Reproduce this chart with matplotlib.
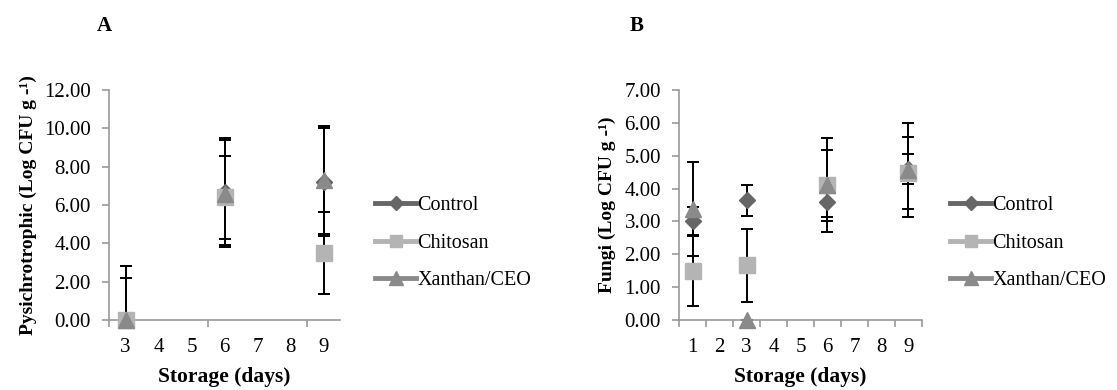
import matplotlib
matplotlib.use("Agg")
import matplotlib.pyplot as plt
from matplotlib.lines import Line2D

plt.rcParams['font.family'] = ['Liberation Serif', 'DejaVu Serif']

series = ["Control", "Chitosan", "Xanthan/CEO"]
colors = ["#666666", "#b4b4b4", "#8a8a8a"]
markers = ["D", "s", "^"]
msizes = [8.5, 11, 12]

# panel A - psychrotrophic
days_a = [3, 6, 9]
control_a = [0.0, 6.7, 7.2]
chitosan_a = [0.0, 6.4, 3.5]
xanthan_a = [0.0, 6.6, 7.3]
control_a_err = [2.8, 2.8, 2.8]
chitosan_a_err = [2.2, 2.15, 2.13]
xanthan_a_err = [2.8, 2.8, 2.8]

# panel B - fungi
days_b = [1, 3, 6, 9]
control_b = [3.0, 3.65, 3.6, 4.6]
chitosan_b = [1.5, 1.66, 4.12, 4.48]
xanthan_b = [3.38, 0.0, 4.1, 4.58]
control_b_err = [0.45, 0.47, 0.46, 0.45]
chitosan_b_err = [1.08, 1.1, 1.43, 1.1]
xanthan_b_err = [1.43, 0.0, 1.08, 1.43]

fig = plt.figure(figsize=(11.17, 3.9), dpi=100)
ax_a = fig.add_axes([0.0976, 0.1795, 0.2068, 0.5897])
ax_b = fig.add_axes([0.6079, 0.1795, 0.2175, 0.5897])


def draw(ax, days, vals, errs, xlim, xminor, ymax, ystep, ylabel, ylab_x, leg_x):
    for v, e, c, m, ms in zip(vals, errs, colors, markers, msizes):
        ax.errorbar(days, v, yerr=e, fmt='none', ecolor='black',
                    elinewidth=1.4, capsize=4.5, capthick=1.4, zorder=2)
        ax.plot(days, v, linestyle='none', marker=m, color=c,
                markersize=ms, clip_on=False, zorder=3)
    ax.set_xlim(*xlim)
    ax.set_ylim(0, ymax)
    ax.set_xticks(range(int(xlim[0] + 0.5), int(xlim[1] + 0.5)))
    ax.set_xticks(xminor, minor=True)
    ax.tick_params(axis='x', which='major', length=0, pad=13, labelsize=15)
    ax.tick_params(axis='x', which='minor', length=5, color='#999999', width=1.2)
    yt = [i * ystep for i in range(int(round(ymax / ystep)) + 1)]
    ax.set_yticks(yt)
    ax.set_yticklabels(["%.2f" % t for t in yt])
    ax.tick_params(axis='y', length=5, color='#999999', width=1.2, labelsize=15, pad=8)
    for s in ['top', 'right']:
        ax.spines[s].set_visible(False)
    for s in ['left', 'bottom']:
        ax.spines[s].set_color('#999999')
        ax.spines[s].set_linewidth(1.2)
    ax.set_xlabel("Storage (days)", fontsize=15.5, fontweight='bold', labelpad=7)
    ax.set_ylabel(ylabel, fontsize=14, fontweight='bold')
    ax.yaxis.set_label_coords(ylab_x, 0.5)
    handles = [Line2D([0], [0], color=c, marker=m, lw=3.5, markersize=ms * 0.8)
               for c, m, ms in zip(colors, markers, msizes)]
    fig.legend(handles, series, loc='center left', bbox_to_anchor=(leg_x, 1 - 243 / 390),
               bbox_transform=fig.transFigure, frameon=False, fontsize=14.5,
               handlelength=2.05, handletextpad=0.05, labelspacing=0.9,
               borderpad=0, borderaxespad=0)


draw(ax_a, days_a, [control_a, chitosan_a, xanthan_a],
     [control_a_err, chitosan_a_err, xanthan_a_err],
     (2.5, 9.5), [2.5, 5.5, 8.5], 12, 2,
     "Pysichrotrophic (Log CFU g -¹)", -0.31, 375 / 1117)
draw(ax_b, days_b, [control_b, chitosan_b, xanthan_b],
     [control_b_err, chitosan_b_err, xanthan_b_err],
     (0.5, 9.5), [i + 0.5 for i in range(10)], 7, 1,
     "Fungi (Log CFU g -¹)", -0.26, 950 / 1117)

fig.text(104 / 1117, 1 - 26 / 390, "A", fontsize=15, fontweight='bold', ha='center', va='center')
fig.text(637 / 1117, 1 - 26 / 390, "B", fontsize=15, fontweight='bold', ha='center', va='center')

fig.savefig("out.png", dpi=100)
